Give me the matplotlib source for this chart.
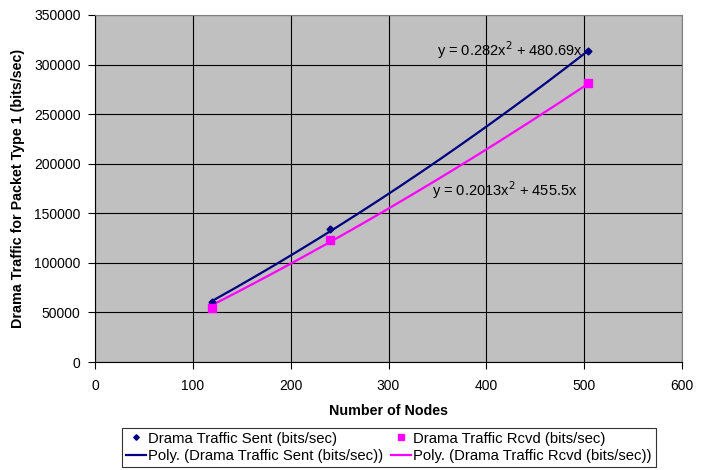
import numpy as np
import matplotlib
matplotlib.use("Agg")
import matplotlib.pyplot as plt

plt.rcParams['font.family'] = ['Liberation Sans', 'DejaVu Sans']

nodes = [120, 240, 504]
sent = [61000, 134000, 314000]
rcvd = [54000, 123000, 281000]
sent_coef = [0.282, 480.69]   # a*x^2 + b*x
rcvd_coef = [0.2013, 455.5]
sent_eq = "y = 0.282x$^2$ + 480.69x"
rcvd_eq = "y = 0.2013x$^2$ + 455.5x"
xticks = [0, 100, 200, 300, 400, 500, 600]
yticks = [0, 50000, 100000, 150000, 200000, 250000, 300000, 350000]

navy = '#000080'
mag = '#FF00FF'

fig = plt.figure(figsize=(7.1, 4.7), dpi=100)
ax = fig.add_axes([95/710, 108/470, 587/710, 347/470])
ax.set_facecolor('#C0C0C0')

xs = np.linspace(min(nodes), max(nodes), 200)
ps, = ax.plot(nodes, sent, linestyle='none', marker='D', markersize=3.5, color=navy,
              label='Drama Traffic Sent (bits/sec)', zorder=4)
pr, = ax.plot(nodes, rcvd, linestyle='none', marker='s', markersize=5.5, color=mag,
              label='Drama Traffic Rcvd (bits/sec)', zorder=4)
ls, = ax.plot(xs, sent_coef[0] * xs**2 + sent_coef[1] * xs, color=navy, lw=1.6,
              label='Poly. (Drama Traffic Sent (bits/sec))', zorder=3)
lr, = ax.plot(xs, rcvd_coef[0] * xs**2 + rcvd_coef[1] * xs, color=mag, lw=1.6,
              label='Poly. (Drama Traffic Rcvd (bits/sec))', zorder=3)

ax.text(424, 314500, sent_eq, fontsize=10.5, ha='center', va='center', zorder=5)
ax.text(419, 173000, rcvd_eq, fontsize=10.5, ha='center', va='center', zorder=5)

ax.set_xlim(0, 600)
ax.set_ylim(0, 350000)
ax.set_xticks(xticks)
ax.set_yticks(yticks)
ax.tick_params(direction='out', length=5, labelsize=10, width=0.8)
ax.tick_params(axis='x', pad=7.5)
ax.tick_params(axis='y', pad=5.5)
ax.grid(True, color='black', linewidth=0.8)
ax.set_axisbelow(True)
for s in ['top', 'right']:
    ax.spines[s].set_color('#808080')
for s in ['left', 'bottom']:
    ax.spines[s].set_color('black')

ax.set_xlabel('Number of Nodes', fontsize=10.3, fontweight='bold', labelpad=8)
ax.set_ylabel('Drama Traffic for Packet Type 1 (bits/sec)', fontsize=10.3, fontweight='bold', labelpad=6)

leg = fig.legend(handles=[ps, ls, pr, lr], loc='lower left',
                 bbox_to_anchor=(122/710, 3/470),
                 ncol=2, fontsize=10.7, frameon=True, fancybox=False, borderpad=0.25,
                 borderaxespad=0.0, markerscale=0.8,
                 handlelength=1.37, handletextpad=0.15, labelspacing=0.25, columnspacing=0.5)
leg.get_frame().set_edgecolor('black')
leg.get_frame().set_linewidth(0.8)

fig.savefig('out.png', dpi=100)
